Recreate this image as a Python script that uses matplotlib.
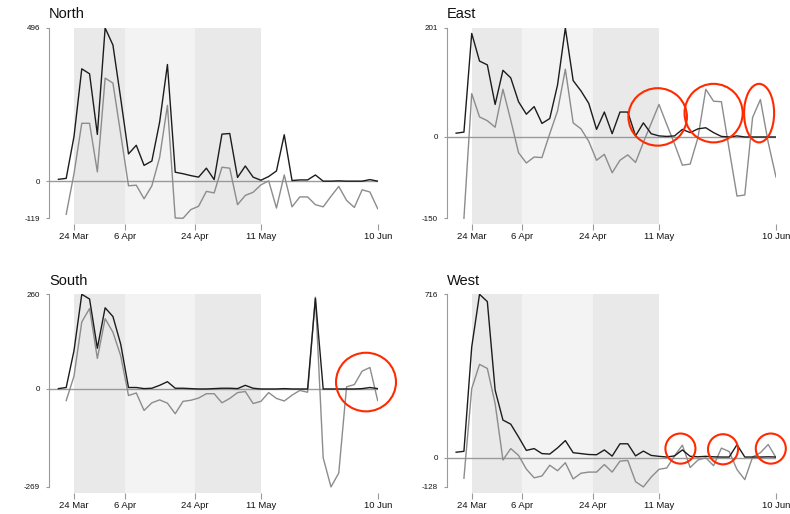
import numpy as np
import pandas as pd
import matplotlib
matplotlib.use("Agg")
import matplotlib.pyplot as plt
import matplotlib.dates as mdates
from matplotlib.patches import Ellipse

plt.rcParams["font.family"] = ["Liberation Sans", "DejaVu Sans"]

# ── data ─────────────────────────────────────────────────────────────────────
DATES = pd.date_range("2020-03-20", periods=42, freq="2D")

NORTH_BLACK = [7, 10, 145, 364, 348, 152, 496, 441, 268, 89, 117, 52, 66, 192,
               378, 30, 25, 19, 14, 43, 6, 153, 155, 13, 50, 14, 4, 16, 34, 151,
               3, 5, 5, 21, 1, 1, 2, 1, 1, 1, 6, 1]
NORTH_GRAY = [np.nan, -106, 25, 188, 188, 31, 334, 318, 153, -14, -12, -56, -14,
              78, 246, -118, -119, -91, -80, -32, -37, 46, 43, -75, -45, -35, -11,
              2, -86, 21, -82, -50, -50, -75, -82, -48, -16, -61, -84, -27, -34, -88]

EAST_BLACK = [7, 9, 191, 140, 133, 60, 123, 109, 65, 42, 56, 25, 34, 96, 201,
              104, 85, 62, 14, 46, 6, 46, 46, 2, 26, 6, 2, 1, 2, 14, 8, 15, 17,
              8, 1, 0, 2, 0, 0, 0, 0, 0]
EAST_GRAY = [np.nan, -150, 80, 37, 30, 18, 88, 31, -29, -48, -37, -38, 6, 48,
             125, 26, 15, -8, -43, -32, -66, -43, -33, -47, -10, 25, 60, 23, -13,
             -52, -50, -1, 88, 66, 65, -23, -109, -107, 36, 69, -10, -74]

SOUTH_BLACK = [1, 4, 105, 260, 247, 112, 223, 199, 123, 4, 4, 1, 2, 10, 20, 2,
               2, 1, 0, 0, 1, 2, 2, 1, 10, 2, 0, 0, 0, 1, 0, 0, 0, 249, 0, 0, 0,
               0, 0, 1, 4, 1]
SOUTH_GRAY = [np.nan, -32, 35, 184, 221, 84, 193, 156, 91, -18, -11, -59, -38,
              -30, -39, -68, -34, -31, -25, -13, -13, -38, -26, -10, -7, -40, -34,
              -10, -26, -33, -17, -4, -9, 252, -189, -269, -231, 6, 12, 49, 59, -32]

WEST_BLACK = [24, 28, 486, 716, 684, 296, 165, 147, 91, 32, 40, 18, 16, 43, 75,
              22, 18, 14, 13, 34, 7, 61, 61, 8, 29, 10, 6, 3, 8, 34, 6, 4, 6, 4,
              3, 3, 57, 3, 3, 3, 4, 3]
WEST_GRAY = [np.nan, -90, 303, 409, 391, 237, -10, 40, 10, -50, -88, -80, -33,
             -57, -22, -93, -68, -63, -63, -30, -63, -15, -12, -105, -128, -85,
             -51, -45, 8, 55, -43, -10, 0, -35, 42, 27, -52, -96, 3, 22, 58, 0]

TICK_DATES = ["2020-03-24", "2020-04-06", "2020-04-24", "2020-05-11", "2020-06-10"]
TICK_LABELS = ["24 Mar", "6 Apr", "24 Apr", "11 May", "10 Jun"]

# shaded periods: (start, end, colour)
BANDS = [("2020-03-24", "2020-04-06", "#e9e9e9"),
         ("2020-04-06", "2020-04-24", "#f3f3f3"),
         ("2020-04-24", "2020-05-11", "#e9e9e9")]

# red annotation ellipses: (centre date, centre value, width in days, height in units)
CIRCLES = {
    "East": [("2020-05-10 16:00", 37, 15.0, 106),
             ("2020-05-25", 44, 14.9, 108),
             ("2020-06-05 16:00", 44, 7.7, 108)],
    "South": [("2020-06-07", 19, 15.4, 161)],
    "West": [("2020-05-16 12:00", 40, 7.7, 132),
             ("2020-05-27 10:00", 37, 7.7, 132),
             ("2020-06-08 16:00", 40, 7.7, 132)],
}

PANELS = [
    ("North", NORTH_BLACK, NORTH_GRAY, [49 / 790, 1 - 224 / 514, 328.7 / 790, 196 / 514]),
    ("East", EAST_BLACK, EAST_GRAY, [446.7 / 790, 1 - 224 / 514, 329.3 / 790, 196 / 514]),
    ("South", SOUTH_BLACK, SOUTH_GRAY, [49 / 790, 1 - 492.7 / 514, 328.7 / 790, 198.4 / 514]),
    ("West", WEST_BLACK, WEST_GRAY, [446.7 / 790, 1 - 492.7 / 514, 329.3 / 790, 198.4 / 514]),
]

XMIN = mdates.date2num(pd.Timestamp("2020-03-17 14:00"))
XMAX = mdates.date2num(pd.Timestamp("2020-06-10"))

fig = plt.figure(figsize=(7.9, 5.14), dpi=100)

for name, black, gray, rect in PANELS:
    ax = fig.add_axes(rect)
    black = np.array(black, dtype=float)
    gray = np.array(gray, dtype=float)
    lo = np.nanmin([np.nanmin(black), np.nanmin(gray)])
    hi = np.nanmax([np.nanmax(black), np.nanmax(gray)])

    for start, end, col in BANDS:
        ax.axvspan(pd.Timestamp(start), pd.Timestamp(end), color=col, lw=0, zorder=0)
    ax.axhline(0, color="#9a9a9a", lw=1.0, zorder=1)

    ax.plot(DATES, gray, color="#8c8c8c", lw=1.0, zorder=2)
    ax.plot(DATES, black, color="#1c1c1c", lw=1.0, zorder=3)

    for c_date, c_val, w, h in CIRCLES.get(name, []):
        cx = mdates.date2num(pd.Timestamp(c_date))
        ax.add_patch(Ellipse((cx, c_val), w, h, fill=False, ec="#ff2a00",
                             lw=1.5, zorder=5, clip_on=False))

    ax.set_xlim(XMIN, XMAX)
    ax.set_ylim(lo - 0.03 * (hi - lo), hi)

    ax.set_yticks([lo, 0, hi])
    ax.set_yticklabels([f"{lo:.0f}", "0", f"{hi:.0f}"])
    ax.set_xticks([mdates.date2num(pd.Timestamp(d)) for d in TICK_DATES])
    ax.set_xticklabels(TICK_LABELS)

    for side in ["top", "right", "bottom"]:
        ax.spines[side].set_visible(False)
    ax.spines["left"].set_color("#9a9a9a")
    ax.spines["left"].set_bounds(lo, hi)

    ax.tick_params(axis="y", length=2.5, width=0.8, color="#9a9a9a",
                   labelsize=5.8, pad=4, labelcolor="#111111")
    ax.tick_params(axis="x", length=4.3, width=0.8, color="#9a9a9a",
                   labelsize=6.8, pad=1.5, labelcolor="#111111")

    ax.set_title(name, loc="left", fontsize=10.5, pad=7, color="#111111")

plt.savefig("out.png", dpi=100)
plt.close()
